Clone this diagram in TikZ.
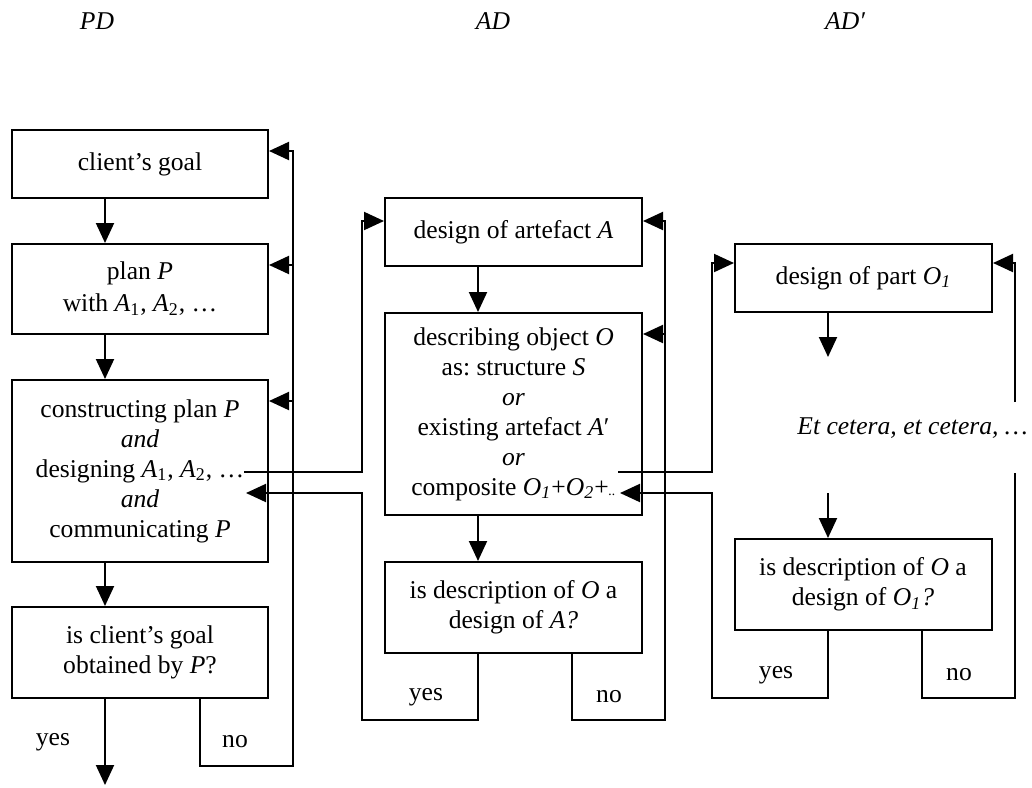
\documentclass[tikz,border=0pt]{standalone}
\usepackage{fontspec}
\setmainfont{Liberation Serif}
\usetikzlibrary{arrows.meta,calc}
\newcommand\bodysize{\fontsize{12.8}{15}\selectfont\frenchspacing}
\begin{document}
\begin{tikzpicture}[x=0.5pt,y=-0.5pt,
  box/.style={draw,line width=1pt,inner sep=0pt,align=center,
    minimum width=128pt,font=\bodysize},
  wbox/.style={box,minimum width=128.5pt},
  wire/.style={line width=1pt},
  arr/.style={wire,-{Triangle[length=10pt,width=9pt]}},
  lbl/.style={inner sep=0pt,font=\bodysize},
  head/.style={inner sep=0pt,anchor=base,font=\bodysize\itshape}]
\useasboundingbox (0,0) rectangle (1032,787);

% column headings
\node[head] (hPD) at (97,29) {PD};
\node[head] (hAD) at (493,29) {AD};
\node[head] (hADp) at (845,29) {AD′};

% PD column
\node[box,minimum height=34pt] (goal) at (140,164) {client’s goal};
\node[box,minimum height=45pt] (plan) at (140,289)
  {plan \textit{P}\\[1pt]with \textit{A}\textsubscript{1}, \textit{A}\textsubscript{2}, …};
\node[box,minimum height=91pt] (build) at (140,471)
  {constructing plan \textit{P}\\\textit{and}\\designing \textit{A}\textsubscript{1}, \textit{A}\textsubscript{2}, …\\\textit{and}\\communicating \textit{P}};
\node[box,minimum height=45.5pt] (check) at (140,652.5)
  {is client’s goal\\obtained by \textit{P}?};

% AD column
\node[wbox,minimum height=34pt] (artA) at (513.5,232) {design of artefact \textit{A}};
\node[wbox,minimum height=101pt] (descr) at (513.5,414)
  {describing object \textit{O}\\as: structure \textit{S}\\\textit{or}\\existing artefact \textit{A}′\\\textit{or}\\composite \textit{O}\textsubscript{\textit{1}}+\textit{O}\textsubscript{\textit{2}}+{\scriptsize\textit{..}}};
\node[wbox,minimum height=45.5pt] (checkA) at (513.5,607.5)
  {is description of \textit{O} a\\design of \textit{A?}};

% AD' column
\node[wbox,minimum height=34pt] (part) at (863.5,278) {design of part \textit{O}\textsubscript{\textit{1}}};
\node[lbl,anchor=base,font=\bodysize\itshape] (etc) at (912.5,434) {Et cetera, et cetera, …};
\node[wbox,minimum height=45.5pt] (checkO) at (863,584.5)
  {is description of \textit{O} a\\design of \textit{O}\textsubscript{\textit{1}}\textit{?}};

% yes / no labels
\node[lbl] (yL) at (53,742) {yes};
\node[lbl] (nL) at (235,742) {no};
\node[lbl] (yM) at (426,697) {yes};
\node[lbl] (nM) at (609,697) {no};
\node[lbl] (yR) at (776,675) {yes};
\node[lbl] (nR) at (959,675) {no};

% vertical axes of the main flow in each column
\coordinate (axL) at (105,0);
\coordinate (axM) at (478,0);
\coordinate (axR) at (828,0);

% PD flow
\coordinate (endL) at (105,785);
\draw[arr] (goal.south -| axL) -- (plan.north -| axL);
\draw[arr] (plan.south -| axL) -- (build.north -| axL);
\draw[arr] (build.south -| axL) -- (check.north -| axL);
\draw[arr] (check.south -| axL) -- (endL);

% PD "no" loop
\coordinate (noL) at (200,0);
\coordinate (cornL) at (293,766);
\coordinate (gIn) at ($(goal.north east)+(0,22)$);
\coordinate (pIn) at ($(plan.north east)+(0,22)$);
\coordinate (bIn) at ($(build.north east)+(0,22)$);
\draw[arr] (check.south -| noL) |- (cornL) -- (cornL |- gIn) -- (gIn);
\draw[arr] (cornL |- pIn) -- (pIn);
\draw[arr] (cornL |- bIn) -- (bIn);

% PD <-> AD links
\coordinate (outL) at (244,472);
\coordinate (laneM) at (362,720);
\coordinate (aIn) at ($(artA.north west)+(0,24)$);
\draw[arr] (outL) -| (laneM |- aIn) -- (aIn);
\coordinate (backL) at (246,493);
\draw[arr] (checkA.south -| axM) |- (laneM) -- (laneM |- backL) -- (backL);

% AD flow
\draw[arr] (artA.south -| axM) -- (descr.north -| axM);
\draw[arr] (descr.south -| axM) -- (checkA.north -| axM);

% AD "no" loop
\coordinate (noM) at (572,0);
\coordinate (cornM) at (665,720);
\coordinate (aOut) at ($(artA.north east)+(0,24)$);
\coordinate (dIn) at ($(descr.north east)+(0,22)$);
\draw[arr] (checkA.south -| noM) |- (cornM) -- (cornM |- aOut) -- (aOut);
\draw[arr] (cornM |- dIn) -- (dIn);

% AD <-> AD' links
\coordinate (outM) at (618,472);
\coordinate (laneR) at (712,698);
\coordinate (partIn) at ($(part.north west)+(0,20)$);
\draw[arr] (outM) -| (laneR |- partIn) -- (partIn);
\coordinate (backM) at (620,493);
\draw[arr] (checkO.south -| axR) |- (laneR) -- (laneR |- backM) -- (backM);

% AD' flow
\coordinate (partTip) at (828,357);
\coordinate (etcTail) at (828,493);
\draw[arr] (part.south -| axR) -- (partTip);
\draw[arr] (etcTail) -- (checkO.north -| axR);

% AD' "no" loop, broken around the text
\coordinate (noR) at (922,0);
\coordinate (cornR) at (1015,698);
\coordinate (gapLow) at (1015,473);
\coordinate (gapHigh) at (1015,402);
\coordinate (partOut) at ($(part.north east)+(0,20)$);
\draw[wire] (checkO.south -| noR) |- (cornR) -- (gapLow);
\draw[arr] (gapHigh) -- (cornR |- partOut) -- (partOut);
\end{tikzpicture}
\end{document}
